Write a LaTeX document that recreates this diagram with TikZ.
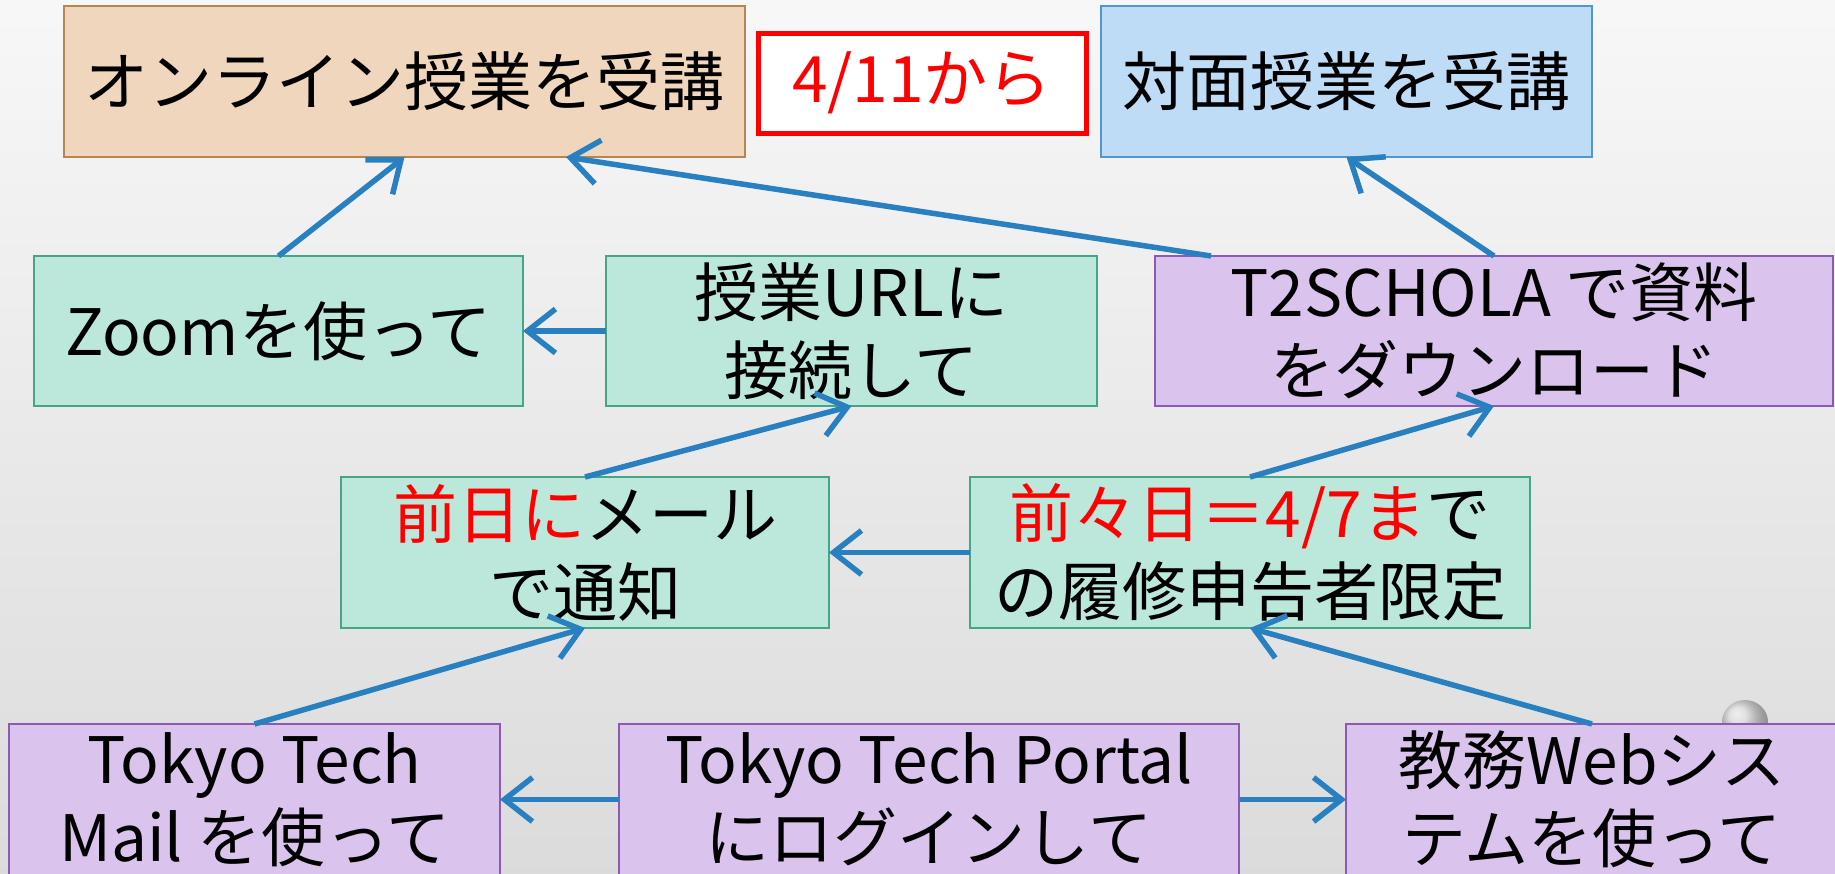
\documentclass[tikz,border=0pt]{standalone}
\usepackage{fontspec}
\setmainfont{Noto Sans CJK JP}
\usepackage{tikz}
\usetikzlibrary{arrows.meta}
\definecolor{arrowColor}{RGB}{41,128,193}
\definecolor{peachFill}{RGB}{240,214,188}
\definecolor{peachLine}{RGB}{180,135,80}
\definecolor{skyFill}{RGB}{190,220,246}
\definecolor{skyLine}{RGB}{80,150,210}
\definecolor{mintFill}{RGB}{188,232,220}
\definecolor{mintLine}{RGB}{70,165,135}
\definecolor{lilacFill}{RGB}{218,195,236}
\definecolor{lilacLine}{RGB}{140,90,180}
\definecolor{dateRed}{RGB}{255,0,0}
\tikzstyle{slide} = [x = 1pt, y = -1pt]
\tikzstyle{boxStyle} = [rectangle, inner sep = 0pt, outer sep = 0pt, line width = 2pt, align = center, font = \fontsize{64}{78}\selectfont]
\tikzstyle{onlineStyle} = [boxStyle, fill = peachFill, draw = peachLine]
\tikzstyle{faceStyle} = [boxStyle, fill = skyFill, draw = skyLine]
\tikzstyle{mintStyle} = [boxStyle, fill = mintFill, draw = mintLine]
\tikzstyle{lilacStyle} = [boxStyle, fill = lilacFill, draw = lilacLine]
\tikzstyle{dateStyle} = [boxStyle, fill = white, draw = dateRed, line width = 5pt]
\tikzstyle{flowArrowStyle} = [color = arrowColor, line width = 5.5pt, -{Straight Barb[length = 28pt, width = 44pt]}]
\newcommand{\flowArrow}[2]{\draw [flowArrowStyle] (#1) -- (#2);}
\newcommand{\textRed}[1]{\textcolor{dateRed}{#1}}

\begin{document}
\begin{tikzpicture}[slide]
        \clip (0,0) rectangle (1835,873);
        \shade [top color = white!97!black, bottom color = black!14] (0,0) rectangle (1835,873);
        \shade [ball color = white!85!black, opacity = 0.6] (1745,722) ellipse (23 and 22);
        \node [onlineStyle, minimum width = 681pt, minimum height = 151pt] (onlineBox) at (404.5,81.5) {オンライン授業を受講};
        \node [dateStyle, minimum width = 328pt, minimum height = 100pt] (dateBox) at (922,83) {\textRed{4/11から}};
        \node [faceStyle, minimum width = 491pt, minimum height = 151pt] (faceBox) at (1346.5,81.5) {対面授業を受講};
        \node [mintStyle, minimum width = 489pt, minimum height = 150pt] (zoomBox) at (278.5,331) {Zoomを使って};
        \node [mintStyle, minimum width = 491pt, minimum height = 150pt] (urlBox) at (851.5,331) {授業URLに\\接続して};
        \node [lilacStyle, minimum width = 678pt, minimum height = 150pt] (scholaBox) at (1494,331) {T2SCHOLA で資料\\をダウンロード};
        \node [mintStyle, minimum width = 488pt, minimum height = 151pt] (noticeBox) at (585,552.5) {\textRed{前日に}メール\\で通知};
        \node [mintStyle, minimum width = 560pt, minimum height = 151pt] (limitBox) at (1250,552.5) {\textRed{前々日＝4/7ま}で\\の履修申告者限定};
        \node [lilacStyle, minimum width = 491pt, minimum height = 151pt] (mailBox) at (254.5,799.5) {Tokyo Tech\\Mail を使って};
        \node [lilacStyle, minimum width = 620pt, minimum height = 151pt] (portalBox) at (929,799.5) {Tokyo Tech Portal\\にログインして};
        \node [lilacStyle, minimum width = 492pt, minimum height = 151pt] (kyomuBox) at (1592,799.5) {教務Webシス\\テムを使って};
        \flowArrow{zoomBox.north}{onlineBox.south}
        \flowArrow{[xshift = 56pt]scholaBox.north west}{[xshift = 161.5pt]onlineBox.south}
        \flowArrow{scholaBox.north}{faceBox.south}
        \flowArrow{urlBox.west}{zoomBox.east}
        \flowArrow{noticeBox.north}{urlBox.south}
        \flowArrow{limitBox.north}{scholaBox.south}
        \flowArrow{limitBox.west}{noticeBox.east}
        \flowArrow{mailBox.north}{noticeBox.south}
        \flowArrow{kyomuBox.north}{limitBox.south}
        \flowArrow{portalBox.west}{mailBox.east}
        \flowArrow{portalBox.east}{kyomuBox.west}
      \end{tikzpicture}
\end{document}
